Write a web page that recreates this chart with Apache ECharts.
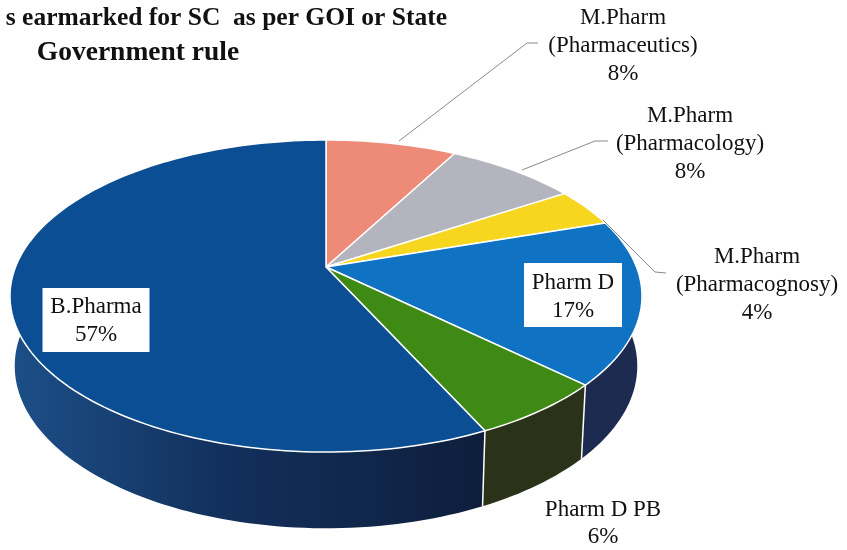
<!DOCTYPE html>
<html>
<head>
<meta charset="utf-8">
<title>Seats earmarked for SC</title>
<style>
html, body { margin: 0; padding: 0; background: #fff; }
#chart { width: 847px; height: 550px; }
</style>
</head>
<body>
<div id="chart"></div>
<script src="https://cdn.jsdelivr.net/npm/echarts@6/dist/echarts.min.js"></script>
<script>
// clockwise from 12 o'clock
var categories = ['M.Pharm\n(Pharmaceutics)', 'M.Pharm\n(Pharmacology)', 'M.Pharm\n(Pharmacognosy)', 'Pharm D', 'Pharm D PB', 'B.Pharma'];
var values = [8, 8, 4, 17, 6, 57];
var titleLines = ['s earmarked for SC  as per GOI or State', 'Government rule'];

var topColors = ['#ee8a78', '#b4b4be', '#f6d61e', '#0f72c2', '#3f8a14', '#0b4e94'];
var wallColors = ['#8a4a40', '#66666e', '#8a7a10', '#1d2b50', '#2a3319', null];
// label centre x, middle line y, boxed or not
var labelPos = [[623, 46, false], [690, 144, false], [757, 285, false], [573, 297, true], [603, 510, false], [96, 321, true]];
var leaders = [
  [[399, 141], [527, 43], [538, 43]],
  [[522, 170], [595, 141], [608, 141]],
  [[603, 220], [655, 272], [666, 273]]
];

// projected disc, the centre sits above the middle of the ellipse
var cx = 326, cy = 267, A = 310.5, B = 150.6, K = -0.186;
var SHRINK = 0.985;

function topPoint(t) {
  var u = Math.sin(t), v = -Math.cos(t), w = 1 + K * v;
  return [cx + A * u / w, cy + B * v / w];
}
function lowPoint(t) {
  var p = topPoint(t);
  return [cx + (p[0] - cx) * SHRINK, p[1] + 70 + 0.04 * (p[1] - 296)];
}
function sliceAngles(i) {
  var total = values.reduce(function (a, b) { return a + b; }, 0);
  var before = values.slice(0, i).reduce(function (a, b) { return a + b; }, 0);
  return [before / total * 2 * Math.PI, (before + values[i]) / total * 2 * Math.PI];
}
function arc(i, fn) {
  var a = sliceAngles(i), pts = [], n = Math.ceil((a[1] - a[0]) * 40);
  for (var j = 0; j <= n; j++) pts.push(fn(a[0] + (a[1] - a[0]) * j / n));
  return pts;
}

function renderWall(params, api) {
  var i = api.value(0);
  var a = sliceAngles(i);
  var fill = wallColors[i] || new echarts.graphic.LinearGradient(0, 0, 1, 0, [
    { offset: 0, color: '#1c4f88' },
    { offset: 0.45, color: '#12305c' },
    { offset: 1, color: '#0e1e3c' }
  ]);
  return {
    type: 'group',
    children: [
      { type: 'polygon', shape: { points: arc(i, topPoint).concat(arc(i, lowPoint).reverse()) }, style: { fill: fill } },
      { type: 'line', shape: { x1: topPoint(a[0])[0], y1: topPoint(a[0])[1], x2: lowPoint(a[0])[0], y2: lowPoint(a[0])[1] }, style: { stroke: '#fff', lineWidth: 1.5 } }
    ]
  };
}
function renderTop(params, api) {
  var i = api.value(0);
  return {
    type: 'polygon',
    shape: { points: [[cx, cy]].concat(arc(i, topPoint)) },
    style: { fill: topColors[i], stroke: '#fff', lineWidth: 1.5, lineJoin: 'round' }
  };
}
function renderLabel(params, api) {
  var i = api.value(0), p = labelPos[i];
  var lines = categories[i].split('\n').concat(values[i] + '%');
  var children = [];
  if (p[2]) {
    var w = i === 5 ? 107 : 98;
    var boxY = i === 5 ? p[1] - 33 : p[1] - 34;
    children.push({ type: 'rect', shape: { x: p[0] - w / 2, y: boxY, width: w, height: 64 }, style: { fill: '#fff' } });
  }
  lines.forEach(function (line, n) {
    var y = p[2] ? p[1] - 14 + n * 28 : p[1] - 14 * (lines.length - 1) + n * 28;
    if (i === 4) y = p[1] + n * 27;
    children.push({
      type: 'text',
      style: { text: line, x: p[0], y: y, align: 'center', verticalAlign: 'middle', fill: '#111', font: '23px "Liberation Serif"' }
    });
  });
  return { type: 'group', children: children };
}

var seriesData = values.map(function (v, i) { return [i, v]; });

var chart = echarts.init(document.getElementById('chart'), null, { renderer: 'canvas' });
chart.setOption({
  backgroundColor: '#ffffff',
  animation: false,
  graphic: leaders.map(function (pts) {
    return { type: 'polyline', z: 20, shape: { points: pts }, style: { stroke: '#8a8a8a', lineWidth: 1, fill: null } };
  }).concat([
    { type: 'text', z: 30, style: { text: titleLines[0], x: 447, y: 18, align: 'right', verticalAlign: 'middle', fill: '#111', font: 'bold 25.5px "Liberation Serif"' } },
    { type: 'text', z: 30, style: { text: titleLines[1], x: 138, y: 53, align: 'center', verticalAlign: 'middle', fill: '#111', font: 'bold 27.5px "Liberation Serif"' } }
  ]),
  series: [
    { type: 'custom', coordinateSystem: 'none', z: 1, silent: true, data: seriesData, renderItem: renderWall },
    { type: 'custom', coordinateSystem: 'none', z: 2, silent: true, data: seriesData, renderItem: renderTop },
    { type: 'custom', coordinateSystem: 'none', z: 3, silent: true, data: seriesData, renderItem: renderLabel }
  ]
});
</script>
</body>
</html>
